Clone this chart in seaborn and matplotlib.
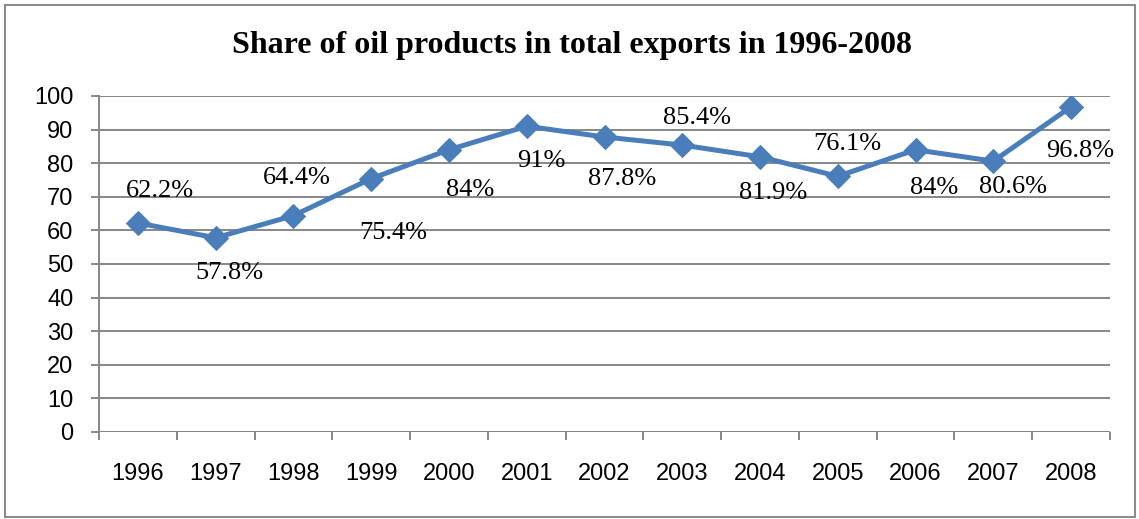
import matplotlib
matplotlib.use("Agg")
import matplotlib.pyplot as plt
from matplotlib.patches import Rectangle
from matplotlib.ticker import FixedLocator, MultipleLocator
import seaborn as sns
import pandas as pd

# Share of oil products in total exports, percent
years = ["1996", "1997", "1998", "1999", "2000", "2001", "2002",
         "2003", "2004", "2005", "2006", "2007", "2008"]
share = [62.2, 57.8, 64.4, 75.4, 84, 91, 87.8, 85.4, 81.9, 76.1, 84, 80.6, 96.8]
labels = ["62.2%", "57.8%", "64.4%", "75.4%", "84%", "91%", "87.8%",
          "85.4%", "81.9%", "76.1%", "84%", "80.6%", "96.8%"]

# label placement relative to each marker (pixels)
label_offsets = [(22, 32), (14, -35), (3, 38), (22, -54), (21, -40), (15, -35),
                 (18, -42), (15, 27), (13, -36), (10, 32), (19, -38), (20, -26),
                 (9, -44)]

df = pd.DataFrame({"year": years, "share": share})

sns.set_theme(style="white")
W, H = 1139, 519
fig = plt.figure(figsize=(W / 100, H / 100), dpi=100)
ax = fig.add_axes([99 / W, 87 / H, (1110 - 99) / W, (432 - 96) / H])

blue = "#4A7EBB"
grid_c = "#878787"

sns.lineplot(data=df, x="year", y="share", ax=ax, color=blue, linewidth=3.6,
             marker="D", markersize=12.5, markeredgecolor=blue, sort=False)

ax.set_xlim(-0.5, len(years) - 0.5)
ax.set_ylim(0, 100)
ax.yaxis.set_major_locator(MultipleLocator(10))
ax.grid(axis="y", color=grid_c, linewidth=1.4)
ax.set_axisbelow(True)
for s in ["top", "right", "bottom"]:
    ax.spines[s].set_visible(False)
ax.spines["left"].set_color(grid_c)
ax.spines["left"].set_linewidth(1.4)
ax.axhline(0, color=grid_c, linewidth=1.4, zorder=1)

ax.set_xlabel("")
ax.set_ylabel("")
tick_font = dict(family="Liberation Sans", size=17, color="#000000")
ax.set_xticks(range(len(years)))
ax.set_xticklabels(years, **tick_font)
ax.xaxis.set_minor_locator(FixedLocator([i - 0.5 for i in range(len(years) + 1)]))
ax.tick_params(axis="x", which="major", length=0, pad=22)
ax.tick_params(axis="x", which="minor", bottom=True, length=5.5, width=1.4,
               color=grid_c, direction="out")
ax.set_yticks(range(0, 101, 10))
ax.set_yticklabels([str(v) for v in range(0, 101, 10)], **tick_font)
ax.tick_params(axis="y", which="major", left=True, length=5.5, width=1.4,
               color=grid_c, direction="out", pad=13)

for i, (v, lab) in enumerate(zip(share, labels)):
    dx, dy = label_offsets[i]
    ax.annotate(lab, (i, v), xytext=(dx, dy), textcoords="offset pixels",
                ha="center", va="center", fontsize=19,
                family="Liberation Serif", color="#000000")

fig.text(0.502, 1 - 46 / H, "Share of oil products in total exports in 1996-2008",
         ha="center", va="center", fontsize=23, fontweight="bold",
         family="Liberation Serif", color="#000000")

fig.patches.append(Rectangle((5 / W, 2 / H), 1130 / W, 512 / H,
                             transform=fig.transFigure, fill=False,
                             edgecolor="#8C8C8C", linewidth=1.5))

fig.savefig("out.png", dpi=100)
